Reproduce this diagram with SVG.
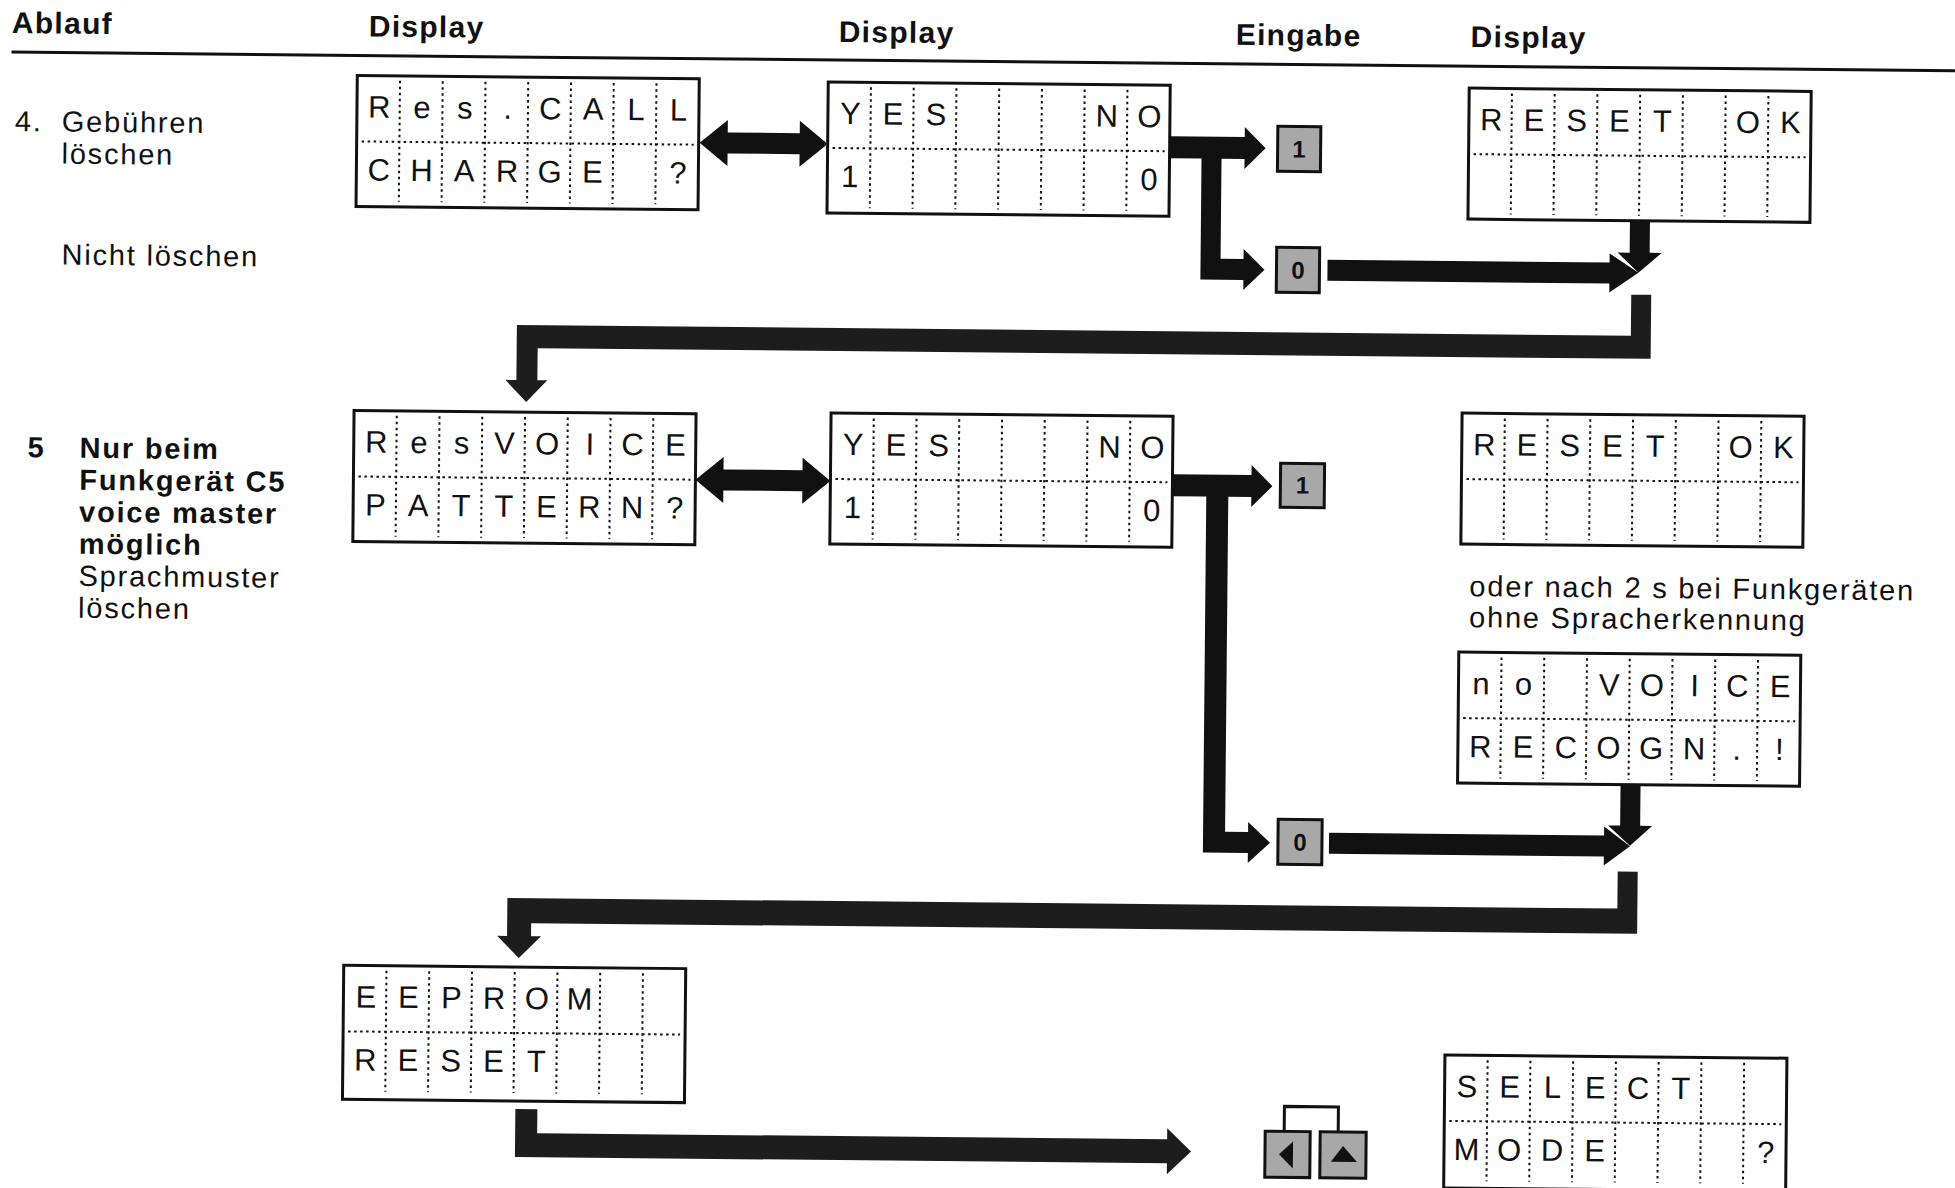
<svg xmlns="http://www.w3.org/2000/svg" xmlns:xlink="http://www.w3.org/1999/xlink" width="1955" height="1188" viewBox="0 0 1955 1188">
<style>
.h{font-family:"Liberation Sans",Arial,sans-serif;font-weight:bold;font-size:30px;letter-spacing:1.3px;fill:#111}
.t{font-family:"Liberation Sans",Arial,sans-serif;font-size:29px;letter-spacing:1.8px;fill:#111}
.tb{font-family:"Liberation Sans",Arial,sans-serif;font-weight:bold;font-size:29px;letter-spacing:1.8px;fill:#111}
.d{font-family:"Liberation Sans",Arial,sans-serif;font-size:31px;text-anchor:middle;fill:#111;white-space:pre}
.frame{fill:#fff;stroke:#111;stroke-width:3}
.dot{fill:none;stroke:#111;stroke-width:2;stroke-dasharray:2.5 3.5}
.key{fill:#a8a8a8;stroke:#111;stroke-width:3}
.kd{font-family:"Liberation Sans",Arial,sans-serif;font-weight:bold;font-size:24px;text-anchor:middle;fill:#111}
.arr{fill:#111}
.band{fill:#1d1d1d}
.line{fill:none;stroke:#111;stroke-width:3}
</style>
<defs>
<path id="grid" class="dot" d="M42.75 5V126M85.5 5V126M128.25 5V126M171 5V126M213.75 5V126M256.5 5V126M299.25 5V126M5 66H337"/>
</defs>
<rect width="1955" height="1188" fill="#fff"/>
<g transform="rotate(0.55)">
<g id="header">
<text class="h" x="12" y="33">Ablauf</text>
<text class="h" x="369" y="33">Display</text>
<text class="h" x="839" y="34">Display</text>
<text class="h" x="1236" y="33">Eingabe</text>
<text class="h" x="1471" y="33">Display</text>
<path class="line" d="M12 52H1960"/>
</g>
<g id="labels">
<text class="t" x="16" y="131">4.</text>
<text class="t" x="63" y="131">Gebühren</text>
<text class="t" x="63" y="163">löschen</text>
<text class="t" x="64" y="264">Nicht löschen</text>
<text class="tb" x="32" y="457">5</text>
<text class="tb" x="84" y="457">Nur beim</text>
<text class="tb" x="84" y="489">Funkgerät C5</text>
<text class="tb" x="84" y="521">voice master</text>
<text class="tb" x="84" y="553">möglich</text>
<text class="t" x="84" y="585">Sprachmuster</text>
<text class="t" x="84" y="617">löschen</text>
<text class="t" x="1475" y="582">oder nach 2 s bei Funkgeräten</text>
<text class="t" x="1475" y="613">ohne Spracherkennung</text>
</g>
<g id="d1" transform="translate(358 72)">
<rect class="frame" width="342" height="131"/><use xlink:href="#grid"/>
<text class="d" xml:space="preserve" x="22.4 65.1 107.9 150.6 193.4 236.1 278.9 321.6" y="42">Res.CALL</text>
<text class="d" xml:space="preserve" x="22.4 65.1 107.9 150.6 193.4 236.1 278.9 321.6" y="105">CHARGE ?</text>
</g>
<g id="d2" transform="translate(829 74)">
<rect class="frame" width="342" height="131"/><use xlink:href="#grid"/>
<text class="d" xml:space="preserve" x="22.4 65.1 107.9 150.6 193.4 236.1 278.9 321.6" y="42">YES   NO</text>
<text class="d" xml:space="preserve" x="22.4 65.1 107.9 150.6 193.4 236.1 278.9 321.6" y="105">1      0</text>
</g>
<g id="d3" transform="translate(1470 74)">
<rect class="frame" width="342" height="131"/><use xlink:href="#grid"/>
<text class="d" xml:space="preserve" x="22.4 65.1 107.9 150.6 193.4 236.1 278.9 321.6" y="42">RESET OK</text>
</g>
<g id="d4" transform="translate(358 407)">
<rect class="frame" width="342" height="131"/><use xlink:href="#grid"/>
<text class="d" xml:space="preserve" x="22.4 65.1 107.9 150.6 193.4 236.1 278.9 321.6" y="42">ResVOICE</text>
<text class="d" xml:space="preserve" x="22.4 65.1 107.9 150.6 193.4 236.1 278.9 321.6" y="105">PATTERN?</text>
</g>
<g id="d5" transform="translate(835 405)">
<rect class="frame" width="342" height="131"/><use xlink:href="#grid"/>
<text class="d" xml:space="preserve" x="22.4 65.1 107.9 150.6 193.4 236.1 278.9 321.6" y="42">YES   NO</text>
<text class="d" xml:space="preserve" x="22.4 65.1 107.9 150.6 193.4 236.1 278.9 321.6" y="105">1      0</text>
</g>
<g id="d6" transform="translate(1466 399)">
<rect class="frame" width="342" height="131"/><use xlink:href="#grid"/>
<text class="d" xml:space="preserve" x="22.4 65.1 107.9 150.6 193.4 236.1 278.9 321.6" y="42">RESET OK</text>
</g>
<g id="d7" transform="translate(1465 638)">
<rect class="frame" width="342" height="131"/><use xlink:href="#grid"/>
<text class="d" xml:space="preserve" x="22.4 65.1 107.9 150.6 193.4 236.1 278.9 321.6" y="42">no VOICE</text>
<text class="d" xml:space="preserve" x="22.4 65.1 107.9 150.6 193.4 236.1 278.9 321.6" y="105">RECOGN.!</text>
</g>
<g id="d8" transform="translate(353 962)">
<rect class="frame" width="342" height="134"/><use xlink:href="#grid"/>
<text class="d" xml:space="preserve" x="22.4 65.1 107.9 150.6 193.4 236.1 278.9 321.6" y="42">EEPROM</text>
<text class="d" xml:space="preserve" x="22.4 65.1 107.9 150.6 193.4 236.1 278.9 321.6" y="105">RESET</text>
</g>
<g id="d9" transform="translate(1455 1041)">
<rect class="frame" width="342" height="133"/><use xlink:href="#grid"/>
<text class="d" xml:space="preserve" x="22.4 65.1 107.9 150.6 193.4 236.1 278.9 321.6" y="42">SELECT</text>
<text class="d" xml:space="preserve" x="22.4 65.1 107.9 150.6 193.4 236.1 278.9 321.6" y="105">MODE   ?</text>
</g>
<g id="k1a"><rect class="key" x="1279" y="114" width="43" height="45"/><text class="kd" x="1300.5" y="145">1</text></g>
<g id="k0a"><rect class="key" x="1279" y="235" width="43" height="45"/><text class="kd" x="1300.5" y="266">0</text></g>
<g id="k1b"><rect class="key" x="1285" y="451" width="44" height="44"/><text class="kd" x="1307" y="481">1</text></g>
<g id="k0b"><rect class="key" x="1286" y="807" width="44" height="45"/><text class="kd" x="1308" y="838">0</text></g>
<g id="kleft"><rect class="key" x="1276" y="1119" width="45" height="46"/><polygon class="arr" points="1290,1142 1304,1129 1304,1156"/></g>
<g id="kup"><rect class="key" x="1331" y="1119" width="46" height="46"/><polygon class="arr" points="1354,1133 1342,1149 1368,1149"/></g>
<g id="connectors">
<polygon class="arr" points="701,136 729,113 729,125.5 801,125.5 801,113 829,136 801,159 801,146.5 729,146.5 729,159"/>
<polygon class="arr" points="1171,125 1246,125 1246,115 1267,136 1246,157 1246,147 1223,147 1223,247 1246,247 1246,237 1267,257.5 1246,278 1246,268 1203,268 1203,147 1171,147"/>
<polygon class="arr" points="1330,247 1612,247 1612,238 1641,257 1612,277 1612,268 1330,268"/>
<polygon class="arr" points="1632,205 1652,205 1652,237 1664,237 1641,257 1620,237 1632,237"/>
<polygon class="band" points="1634,279 1654,279 1654,343 541,343 541,375 551,375 530,397 509,375 520,375 520,320 1634,320"/>
<polygon class="arr" points="700,473 728,450 728,462.5 807,462.5 807,450 835,473 807,496 807,483.5 728,483.5 728,496"/>
<polygon class="arr" points="1177,463 1256,463 1256,453 1277,474 1256,495 1256,485 1233,485 1233,820 1256,820 1256,810 1278,830.5 1256,851 1256,841 1211,841 1211,485 1177,485"/>
<polygon class="arr" points="1337,820 1612,820 1612,811 1638,830.5 1612,850 1612,841 1337,841"/>
<polygon class="arr" points="1628,769 1648,769 1648,810 1660,810 1638,830 1616,810 1628,810"/>
<polygon class="band" points="1626,856 1646,856 1646,918 540,918 540,931 550,931 528,953 506,931 516,931 516,893 1626,893"/>
<polygon class="band" points="526,1104 548,1104 548,1128 1178,1128 1178,1117 1202,1140 1178,1163 1178,1152 526,1152"/>
<polyline class="line" points="1295,1119 1295,1094 1349,1094 1349,1119"/>
</g>
</g>
</svg>
